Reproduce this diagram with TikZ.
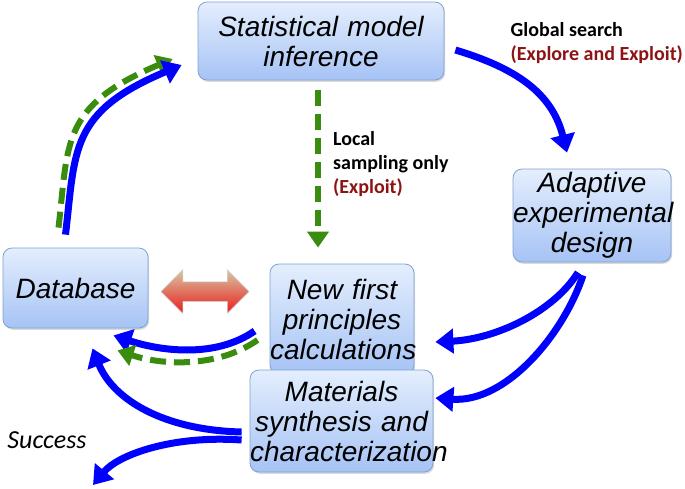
\documentclass[tikz,border=0pt]{standalone}
\usepackage{fontspec}
\setmainfont{Liberation Sans}
\newfontfamily\notefont{Carlito}
\usepackage{tikz}
\usetikzlibrary{shapes.arrows}
\usetikzlibrary{arrows.meta}
\usetikzlibrary{shadows}
\usetikzlibrary{calc}
\usetikzlibrary{positioning}
\usepackage{xcolor}
\definecolor{boxtop}{HTML}{E4EEFD}
\definecolor{boxbot}{HTML}{A6C3F5}
\definecolor{boxline}{HTML}{7FA2D4}
\definecolor{loopblue}{HTML}{0000FF}
\definecolor{localgreen}{HTML}{3A8C0E}
\definecolor{notered}{HTML}{8C1414}
\definecolor{arrowtop}{HTML}{D6C8A4}
\definecolor{arrowmid}{HTML}{DCA68E}
\definecolor{arrowbot}{HTML}{EA1C1C}
\tikzset{every text node part/.style={align=center}}
\tikzstyle{block} = [draw=boxline, line width=0.8pt, rounded corners=9pt, top color=boxtop, bottom color=boxbot, inner sep=0pt, drop shadow={shadow xshift=1.2pt, shadow yshift=-1.8pt, opacity=0.3}, font={\itshape\fontsize{28}{30}\selectfont}]
\tikzstyle{note} = [inner sep=0pt, font={\notefont\bfseries\fontsize{20}{24}\selectfont}, every text node part/.append style={align=left}]
\tikzstyle{ln} = [draw=loopblue, line width=7pt, -{Triangle[length=18pt, width=24pt]}]
\tikzstyle{lndash} = [draw=localgreen, line width=6pt, dash pattern=on 16pt off 8pt, -{Triangle[length=16pt, width=21pt]}]

\begin{document}
\begin{tikzpicture}[x=1pt, y=-1pt]
  \useasboundingbox (0,0) rectangle (685,488);
  \node[block, text width=246pt, minimum height=78pt] (model) at (321,41) {Statistical model\\inference};
  \node[block, text width=158pt, minimum height=93pt] (design) at (592,215.5) {Adaptive\\experimental\\design};
  \node[block, text width=145pt, minimum height=80pt] (db) at (75.5,288) {Database};
  \node[block, text width=144pt, minimum height=110pt] (calc) at (342,319) {New first\\principles\\calculations};
  \node[block, text width=183pt, minimum height=102pt] (synth) at (341.5,421) {Materials\\synthesis and\\characterization};
  \node[double arrow, double arrow head extend=12pt, inner xsep=0pt, inner ysep=9.5pt, minimum height=88pt, top color=arrowtop, middle color=arrowmid, bottom color=arrowbot, draw=black!20, line width=0.5pt] (link) at (205,291.5) {};
  \node[note, anchor=west] (local) at ($(model.south)+(12,84)$) {Local\\sampling only\\\textcolor{notered}{(Exploit)}};
  \node[note, anchor=west] (global) at ($(model.east)+(66,2)$) {Global search\\\textcolor{notered}{(Explore and Exploit)}};
  \node[inner sep=0pt, font={\notefont\itshape\fontsize{26}{28}\selectfont}] (success) at (47,440) {Success};
  \coordinate (exit) at ($(success)+(46,45)$);
  % loop back to the model
  \draw[lndash] ($(db.north)+(-17,-20)$) .. controls +(10,-85) and +(-112,47) .. ($(model.west)+(-25,18)$);
  \draw[ln] ($(db.north)+(-10,-13)$) .. controls +(10,-85) and +(-112,47) .. ($(model.west)+(-16,24)$);
  \draw[ln] ($(model.east)+(11,9)$) .. controls +(60,18) and +(-15,-60) .. ($(design.north)+(-25,-16)$);
  \draw[lndash] ($(model.south)+(-3,10)$) -- ($(calc.north)+(-24,-16)$);
  \draw[ln] ($(design.south)+(-14,10)$) .. controls +(-25,40) and +(60,-3) .. ($(calc.east)+(21,23)$);
  \draw[ln] ($(design.south)+(-9,13)$) .. controls +(-20,60) and +(70,5) .. ($(synth.east)+(2,-23)$);
  \draw[ln] ($(calc.west)+(-15,12)$) .. controls +(-40,28) and +(45,15) .. ($(db.south)+(38,7)$);
  \draw[lndash] ($(calc.west)+(-12,21)$) .. controls +(-40,28) and +(45,15) .. ($(db.south)+(42,22)$);
  \draw[ln] ($(synth.west)+(-8,11)$) .. controls +(-80,-2) and +(20,50) .. ($(db.south)+(17,20)$);
  \draw[ln] ($(synth.west)+(-8,19)$) .. controls +(-70,-5) and +(25,-30) .. (exit);
\end{tikzpicture}
\end{document}
